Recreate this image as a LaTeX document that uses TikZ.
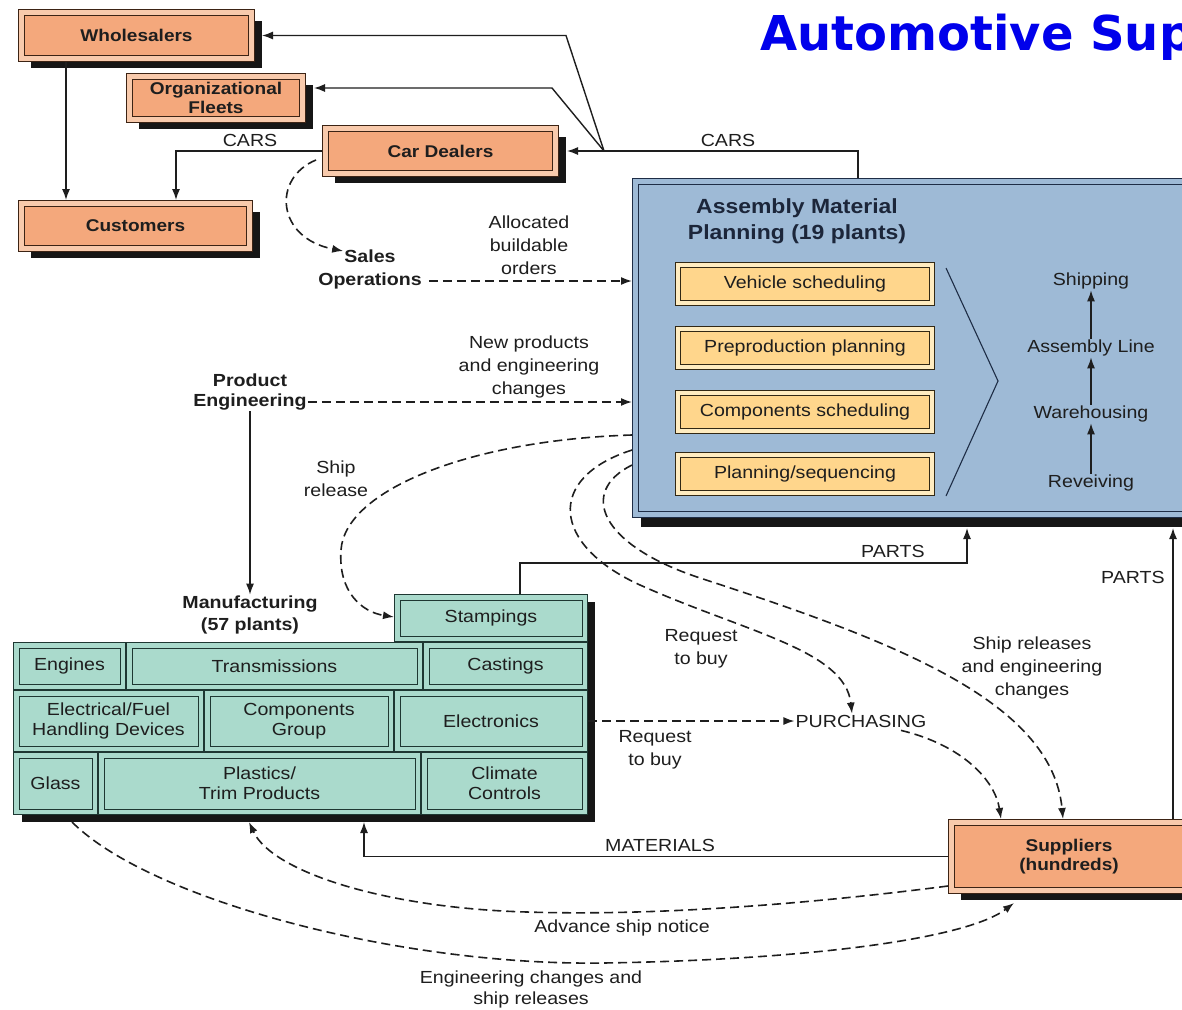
\documentclass[tikz,border=0pt]{standalone}
\usepackage{fontspec}
\setmainfont{Liberation Sans}[FakeStretch=1.12]
\newfontfamily\titlefont{DejaVu Sans}
\usetikzlibrary{arrows.meta,shadows}
\definecolor{obord}{RGB}{60,35,20}
\definecolor{oband}{RGB}{248,202,172}
\definecolor{ofill}{RGB}{244,168,124}
\definecolor{ybord}{RGB}{50,40,20}
\definecolor{yband}{RGB}{255,236,192}
\definecolor{yfill}{RGB}{255,214,140}
\definecolor{tbord}{RGB}{30,55,50}
\definecolor{tfill}{RGB}{170,218,204}
\definecolor{abord}{RGB}{30,45,70}
\definecolor{afill}{RGB}{158,186,214}
\definecolor{shadowc}{RGB}{22,22,22}
\definecolor{linec}{RGB}{30,30,30}
\definecolor{txt}{RGB}{30,30,30}
\definecolor{navytxt}{RGB}{28,38,58}
\definecolor{titleblue}{RGB}{0,0,235}
\newcommand\bx[8]{%
 \pgfmathsetmacro\bxw{#6-#4-#2}%
 \pgfmathsetmacro\bxh{#7-#5-#2}%
 \node[#1, minimum width=\bxw pt, minimum height=\bxh pt] (#3) at ({(#4+#6)/2},{(#5+#7)/2}) {#8};}
\tikzset{
 obox/.style={draw=obord,line width=1.1pt,double=oband,double distance=4.5pt,fill=ofill,outer sep=3.35pt,inner sep=0pt,align=center,text=txt,font=\bfseries\fontsize{17}{18.5}\selectfont,drop shadow={shadow xshift=10pt,shadow yshift=-9pt,fill=shadowc,opacity=1}},
 ybox/.style={draw=ybord,line width=1.1pt,double=yband,double distance=3.8pt,fill=yfill,outer sep=3pt,inner sep=0pt,align=center,text=txt,font=\fontsize{17.5}{20}\selectfont},
 tcell/.style={draw=tbord,line width=1pt,double=tfill,double distance=4.5pt,fill=tfill,outer sep=3.25pt,inner sep=0pt,align=center,text=txt,font=\fontsize{17.5}{20}\selectfont},
 abox/.style={draw=abord,line width=1.2pt,double=afill,double distance=4.5pt,fill=afill,outer sep=3.45pt,inner sep=0pt,drop shadow={shadow xshift=6pt,shadow yshift=-12pt,fill=shadowc,opacity=1}},
 lbl/.style={font=\fontsize{17.5}{23}\selectfont,text=txt,align=center,inner sep=1pt},
 blbl/.style={font=\bfseries\fontsize{17.5}{22}\selectfont,text=txt,align=center,inner sep=1pt},
 arr/.style={draw=linec,line width=1.4pt,-{Latex[length=11pt,width=8pt]}},
 dsh/.style={dash pattern=on 9pt off 5pt,line width=1.6pt}
}
\begin{document}
\begin{tikzpicture}[x=1pt,y=-1pt]
\useasboundingbox (0,0) rectangle (1182,1009);
\fill[white] (0,0) rectangle (1182,1009);
% title
\node[font=\titlefont\bfseries\fontsize{48}{48}\selectfont,text=titleblue,anchor=base west,inner sep=0pt] (title) at (760,50) {Automotive Sup};
% coordinates
\coordinate (vx66) at (66,0);
\coordinate (vx176) at (176,0);
\coordinate (vx858) at (858,0);
\coordinate (vx520) at (520,0);
\coordinate (vx967) at (967,0);
\coordinate (vx1173) at (1173,0);
\coordinate (vx364) at (364,0);
\coordinate (vx249) at (249,0);
\coordinate (vx72) at (72,0);
\coordinate (vx852) at (852,0);
\coordinate (vx1001) at (1001,0);
\coordinate (vx1063) at (1063,0);
\coordinate (h435) at (0,435);
\coordinate (h450) at (0,450);
\coordinate (h465) at (0,465);
\coordinate (h563) at (0,563);
\coordinate (J) at (604,151);
\coordinate (K1) at (566,35.5);
\coordinate (K2) at (552,88);
% orange boxes
\bx{obox}{6.7}{whole}{18}{9}{255}{62}{Wholesalers}
\bx{obox}{6.7}{org}{126}{73}{306}{123}{Organizational\\Fleets}
\bx{obox}{6.7}{car}{322}{125}{559}{177}{Car Dealers}
\bx{obox}{6.7}{cust}{18}{200}{253}{252}{Customers}
\bx{obox}{6.7}{sup}{948}{819}{1190}{894}{Suppliers\\(hundreds)}
% assembly box
\bx{abox}{6.9}{asm}{632}{178}{1205}{518}{}
\node[font=\bfseries\fontsize{20.5}{26}\selectfont,text=navytxt,align=center,inner sep=0pt] (asmtitle) at (797,221) {Assembly Material\\Planning (19 plants)};
\bx{ybox}{6}{vs}{675}{262}{935}{306}{Vehicle scheduling}
\bx{ybox}{6}{pp}{675}{326}{935}{370}{Preproduction planning}
\bx{ybox}{6}{cs}{675}{390}{935}{434}{Components scheduling}
\bx{ybox}{6}{ps}{675}{452}{935}{496}{Planning/sequencing}
\draw[abord,line width=1.1pt] (946,268) -- (998,381) -- (946,496);
\node[lbl] (ship) at (1091,281) {Shipping};
\node[lbl] (asl) at (1091,348) {Assembly Line};
\node[lbl] (ware) at (1091,414) {Warehousing};
\node[lbl] (recv) at (1091,483) {Reveiving};
\draw[arr] (recv.north) -- (ware.south);
\draw[arr] (ware.north) -- (asl.south);
\draw[arr] (asl.north) -- (ship.south);
% manufacturing block
\fill[shadowc] (22,650) rectangle (595,822);
\fill[shadowc] (402,602) rectangle (595,650);
\bx{tcell}{6.5}{stamp}{394}{594}{588}{642}{Stampings}
\bx{tcell}{6.5}{eng}{13}{642}{126}{690}{Engines}
\bx{tcell}{6.5}{trans}{126}{642}{423}{690}{Transmissions}
\bx{tcell}{6.5}{cast}{423}{642}{588}{690}{Castings}
\bx{tcell}{6.5}{elf}{13}{690}{204}{752}{Electrical/Fuel\\Handling Devices}
\bx{tcell}{6.5}{comp}{204}{690}{394}{752}{Components\\Group}
\bx{tcell}{6.5}{elec}{394}{690}{588}{752}{Electronics}
\bx{tcell}{6.5}{glass}{13}{752}{98}{815}{Glass}
\bx{tcell}{6.5}{plast}{98}{752}{421}{815}{Plastics/\\Trim Products}
\bx{tcell}{6.5}{clim}{421}{752}{588}{815}{Climate\\Controls}
\coordinate (mfb) at ([yshift=-7pt]plast.south);
\coordinate (asb) at ([yshift=-10pt]asm.south);
% text labels
\node[lbl] (cars1) at (250,140) {CARS};
\node[lbl] (cars2) at (728,140) {CARS};
\node[blbl] (sales) at (370,256) {Sales};
\node[blbl] (ops) at (370,281) {Operations};
\node[lbl] (alloc) at (529,245) {Allocated\\buildable\\orders};
\node[lbl] (newprod) at (529,367) {New products\\and engineering\\changes};
\node[blbl] (pe1) at (250,380) {Product};
\node[blbl] (pe2) at (250,402) {Engineering};
\node[blbl] (mfg) at (250,615) {Manufacturing\\(57 plants)};
\node[lbl] (shiprel) at (336,479) {Ship\\release};
\node[lbl] (req1) at (701,649) {Request\\to buy};
\node[lbl] (req2) at (655,750) {Request\\to buy};
\node[lbl] (purch) at (861,721) {PURCHASING};
\node[lbl] (shiprels) at (1032,668) {Ship releases\\and engineering\\changes};
\node[lbl] (parts1) at (893,551) {PARTS};
\node[lbl] (parts2) at (1133,577) {PARTS};
\node[lbl] (mat) at (660,845) {MATERIALS};
\node[lbl] (asn) at (622,928) {Advance ship notice};
\node[lbl,font=\fontsize{17.5}{21}\selectfont] (engch) at (531,989) {Engineering changes and\\ship releases};
% solid connectors
\draw[arr] (whole.south -| vx66) -- (cust.north -| vx66);
\draw[arr] (car.west) -| (cust.north -| vx176);
\draw[arr] (asm.north -| vx858) |- ([xshift=8pt]car.east);
\draw[arr] (J) -- (K1) -- ([xshift=7pt]whole.east);
\draw[arr] (J) -- (K2) -- ([xshift=8pt,yshift=10pt]org.east);
\draw[arr] (pe2.south) -- (mfg.north);
\draw[arr] (stamp.north -| vx520) -- (vx520 |- h563) -- (vx967 |- h563) -- (asb -| vx967);
\draw[arr] (sup.north -| vx1173) -- (asb -| vx1173);
\draw[arr] (sup.west) -| (mfb -| vx364);
% dashed connectors
\draw[arr,dsh] ([xshift=-6pt,yshift=-9pt]car.west) .. controls (272,178) and (276,238) .. ([yshift=5pt]sales.west);
\draw[arr,dsh] ([xshift=6pt]ops.east) -- (ops.east -| asm.west);
\draw[arr,dsh] (pe2.east) -- (pe2.east -| asm.west);
\draw[arr,dsh] (asm.west |- h435) .. controls (470,440) and (345,490) .. (341,550) .. controls (338,592) and (362,612) .. ([yshift=1pt]stamp.west);
\draw[arr,dsh] (asm.west |- h450) .. controls (545,478) and (552,545) .. (640,585) .. controls (745,632) and (845,650) .. (purch.north -| vx852);
\draw[arr,dsh] (asm.west |- h465) .. controls (578,492) and (600,545) .. (700,578) .. controls (890,640) and (1052,700) .. (sup.north -| vx1063);
\draw[arr,dsh] ([xshift=40pt,yshift=-2pt]purch.south) .. controls (962,745) and (995,780) .. (sup.north -| vx1001);
\draw[arr,dsh] (elec.east) -- (purch.west);
\draw[arr,dsh] ([yshift=8pt]sup.south west) .. controls (800,905) and (650,916) .. (527,912) .. controls (385,908) and (272,872) .. (mfb -| vx249);
\draw[arr,dsh] (mfb -| vx72) .. controls (150,900) and (400,966) .. (603,963) .. controls (800,960) and (965,940) .. ([xshift=66pt,yshift=-9pt]sup.south west);
\end{tikzpicture}
\end{document}
